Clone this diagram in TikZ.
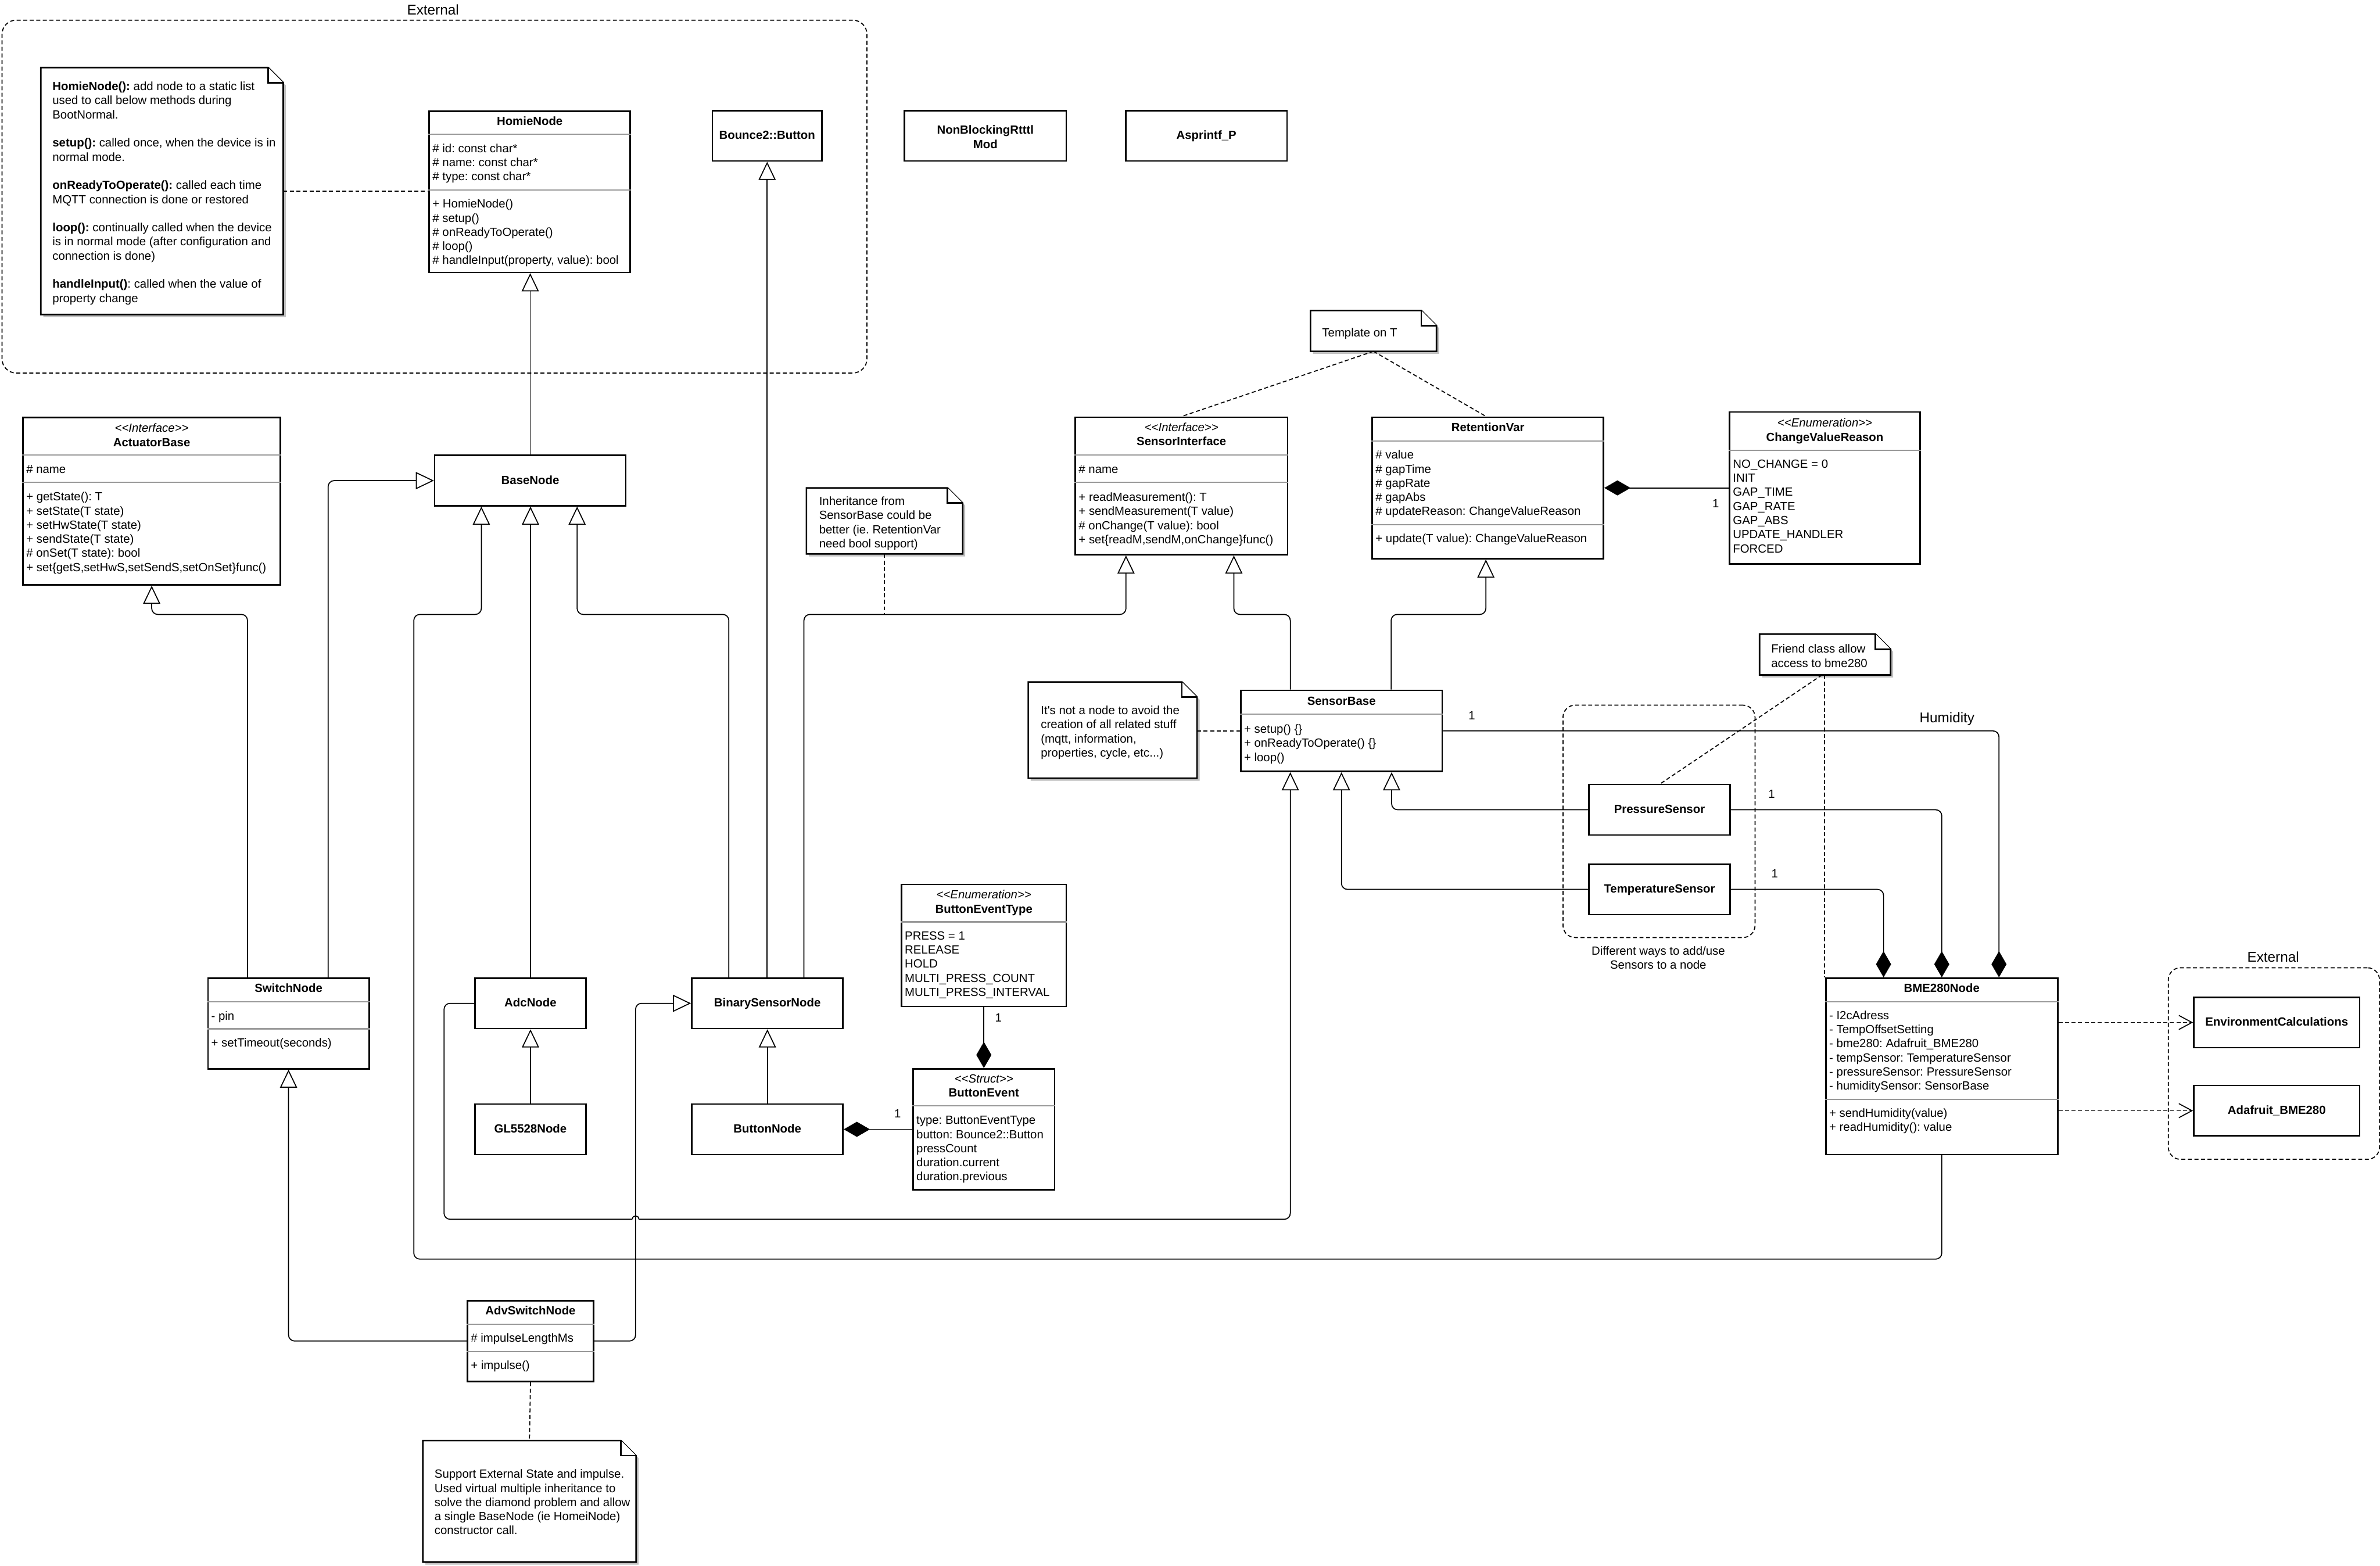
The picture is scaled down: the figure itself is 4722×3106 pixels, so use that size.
\documentclass[tikz,border=0pt]{standalone}
\usepackage{fontspec}
\setmainfont{Liberation Sans}
\usetikzlibrary{arrows.meta}
\frenchspacing
\definecolor{sepgray}{HTML}{999999}
\definecolor{shadowgray}{HTML}{C0C0C0}
\newcommand{\umlfont}{\fontsize{23.5}{28}\selectfont\frenchspacing}
\newcommand{\bigumlfont}{\fontsize{28}{33}\selectfont}
\newcommand{\leftlines}[1]{\vtop{\baselineskip=28pt\lineskiplimit=-100pt\lineskip=0pt\halign{##\hfil\cr#1\crcr}}}
\newcommand{\centerlines}[1]{\vtop{\baselineskip=28pt\lineskiplimit=-100pt\lineskip=0pt\halign{\hfil##\hfil\cr#1\crcr}}}
\newcommand{\umlsep}[2]{\draw[sepln] (#1.west |- 0,#2) -- (#1.east |- 0,#2);}
\newcommand{\drawnote}[1]{%
  \fill[shadowgray] ([shift={(5,5)}]#1.north west) -- ([shift={(-25,5)}]#1.north east) -- ([shift={(5,35)}]#1.north east) -- ([shift={(5,5)}]#1.south east) -- ([shift={(5,5)}]#1.south west) -- cycle;
  \draw[noteln] (#1.north west) -- ([shift={(-30,0)}]#1.north east) -- ([shift={(0,30)}]#1.north east) -- (#1.south east) -- (#1.south west) -- cycle;
  \draw[noteln] ([shift={(-30,0)}]#1.north east) -- ([shift={(-30,30)}]#1.north east) -- ([shift={(0,30)}]#1.north east);}
\begin{document}
\begin{tikzpicture}[x=1pt, y=-1pt,
  every node/.style={font=\umlfont, inner sep=0pt},
  box/.style={draw, line width=3pt, fill=white, rectangle, anchor=north west},
  grp/.style={draw, line width=2pt, dash pattern=on 8pt off 5pt, rounded corners=28pt, rectangle, anchor=north west},
  notebg/.style={rectangle, anchor=north west, outer sep=0pt},
  noteln/.style={draw, line width=3pt, fill=white, line join=miter},
  sepln/.style={draw=sepgray, line width=2.5pt},
  ttl/.style={anchor=base, font=\umlfont\bfseries},
  ster/.style={anchor=base, font=\umlfont\itshape},
  txt/.style={anchor=base west},
  lbl/.style={anchor=base},
  biglbl/.style={anchor=base, font=\bigumlfont},
  conn/.style={draw, line width=2pt, rounded corners=12pt},
  inh/.style={conn, -{Triangle[open, fill=white, length=36pt, width=34pt]}},
  comp/.style={conn, -{Diamond[length=52pt, width=30pt]}},
  dashln/.style={draw, line width=2pt, dash pattern=on 8pt off 5pt},
  dep/.style={dashln, -{Straight Barb[length=26pt, width=28pt]}}
]
\fill[white] (0,0) rectangle (4722,3106);
\useasboundingbox (0,0) rectangle (4722,3106);

% ---------- groups ----------
\node[grp, minimum width=1716pt, minimum height=700pt] (ext1) at (3,39) {};
\node[biglbl] (ext1-l) at (859,29) {External};
\node[grp, rounded corners=24pt, minimum width=381pt, minimum height=461pt] (grp2) at (3100,1398) {};
\node[lbl] (grp2-l) at (3290,1894.5) {\centerlines{Different ways to add/use\cr Sensors to a node}};
\node[grp, rounded corners=24pt, minimum width=419pt, minimum height=380pt] (ext2) at (4301,1919) {};
\node[biglbl] (ext2-l) at (4510,1908) {External};

% ---------- notes ----------
\node[notebg, minimum width=481pt, minimum height=490pt] (note1) at (81,134) {};
\drawnote{note1}
\node[txt] (note1-t) at (104,179.5) {\leftlines{\textbf{HomieNode():} add node to a static list\cr used to call below methods during\cr BootNormal.\cr\cr \textbf{setup():} called once, when the device is in\cr normal mode.\cr\cr \textbf{onReadyToOperate():} called each time\cr MQTT connection is done or restored\cr\cr \textbf{loop():} continually called when the device\cr is in normal mode (after configuration and\cr connection is done)\cr\cr \textbf{handleInput()}: called when the value of\cr property change}};

\node[notebg, minimum width=250pt, minimum height=81pt] (tmpl) at (2600,616) {};
\drawnote{tmpl}
\node[txt] (tmpl-t) at (2623,667.5) {Template on T};

\node[notebg, minimum width=310pt, minimum height=131pt] (inhnote) at (1600,968) {};
\drawnote{inhnote}
\node[txt] (inhnote-t) at (1625,1002.5) {\leftlines{Inheritance from\cr SensorBase could be\cr better (ie. RetentionVar\cr need bool support)}};

\node[notebg, minimum width=335pt, minimum height=191pt] (notnode) at (2040,1353) {};
\drawnote{notnode}
\node[txt] (notnode-t) at (2065,1417.5) {\leftlines{It\textquotesingle s not a node to avoid the\cr creation of all related stuff\cr (mqtt, information,\cr properties, cycle, etc...)}};

\node[notebg, minimum width=260pt, minimum height=81pt] (friend) at (3491,1258) {};
\drawnote{friend}
\node[txt] (friend-t) at (3514,1295.5) {\leftlines{Friend class allow\cr access to bme280}};

\node[notebg, minimum width=423pt, minimum height=241pt] (advnote) at (839,2858) {};
\drawnote{advnote}
\node[txt] (advnote-t) at (862,2932.5) {\leftlines{Support External State and impulse.\cr Used virtual multiple inheritance to\cr solve the diamond problem and allow\cr a single BaseNode (ie HomeiNode)\cr constructor call.}};

% ---------- classes ----------
\node[box, minimum width=399pt, minimum height=320pt] (homie) at (850,219) {};
\node[ttl] (homie-t) at (homie.north |- 0,248.5) {HomieNode};
\umlsep{homie}{266}
\umlsep{homie}{377}
\node[txt] (homie-a) at (858,302.5) {\leftlines{\# id: const char*\cr \# name: const char*\cr \# type: const char*}};
\node[txt] (homie-m) at (858,412.5) {\leftlines{+ HomieNode()\cr \# setup()\cr \# onReadyToOperate()\cr \# loop()\cr \# handleInput(property, value): bool}};

\node[box, minimum width=217pt, minimum height=100pt] (bounce) at (1412,218) {};
\node[ttl] (bounce-t) at (bounce.north |- 0,276.5) {Bounce2::Button};
\node[box, minimum width=321pt, minimum height=100pt] (nbr) at (1793,218) {};
\node[ttl] (nbr-t) at (nbr.north |- 0,266) {\centerlines{NonBlockingRtttl\cr Mod}};
\node[box, minimum width=320pt, minimum height=100pt] (asp) at (2232,218) {};
\node[ttl] (asp-t) at (asp.north |- 0,276.5) {Asprintf\_P};

\node[box, minimum width=511pt, minimum height=332pt] (actb) at (44,827) {};
\node[ster] (actb-s) at (actb.north |- 0,857.5) {<{}<Interface>{}>};
\node[ttl] (actb-t) at (actb.north |- 0,885.5) {ActuatorBase};
\umlsep{actb}{903}
\umlsep{actb}{957}
\node[txt] (actb-a) at (52,938.5) {\# name};
\node[txt] (actb-m) at (52,993.5) {\leftlines{+ getState(): T\cr + setState(T state)\cr + setHwState(T state)\cr + sendState(T state)\cr \# onSet(T state): bool\cr + set\{getS,setHwS,setSendS,setOnSet\}func()}};

\node[box, minimum width=379pt, minimum height=100pt] (basenode) at (861,902) {};
\node[ttl] (basenode-t) at (basenode.north |- 0,960.5) {BaseNode};

\node[box, minimum width=421pt, minimum height=273pt] (sensint) at (2132,826) {};
\node[ster] (sensint-s) at (sensint.north |- 0,856.5) {<{}<Interface>{}>};
\node[ttl] (sensint-t) at (sensint.north |- 0,883.5) {SensorInterface};
\umlsep{sensint}{903}
\umlsep{sensint}{957}
\node[txt] (sensint-a) at (2140,939.5) {\# name};
\node[txt] (sensint-m) at (2140,994.5) {\leftlines{+ readMeasurement(): T\cr + sendMeasurement(T value)\cr \# onChange(T value): bool\cr + set\{readM,sendM,onChange\}func()}};

\node[box, minimum width=459pt, minimum height=281pt] (retvar) at (2721,826) {};
\node[ttl] (retvar-t) at (retvar.north |- 0,856.5) {RetentionVar};
\umlsep{retvar}{875}
\umlsep{retvar}{1041}
\node[txt] (retvar-a) at (2729,910.5) {\leftlines{\# value\cr \# gapTime\cr \# gapRate\cr \# gapAbs\cr \# updateReason: ChangeValueReason}};
\node[txt] (retvar-m) at (2729,1076.5) {+ update(T value): ChangeValueReason};

\node[box, minimum width=378pt, minimum height=301pt] (cvr) at (3430,816) {};
\node[ster] (cvr-s) at (cvr.north |- 0,846.5) {<{}<Enumeration>{}>};
\node[ttl] (cvr-t) at (cvr.north |- 0,875.5) {ChangeValueReason};
\umlsep{cvr}{893}
\node[txt] (cvr-a) at (3438,928.5) {\leftlines{NO\_CHANGE = 0\cr INIT\cr GAP\_TIME\cr GAP\_RATE\cr GAP\_ABS\cr UPDATE\_HANDLER\cr FORCED}};

\node[box, minimum width=400pt, minimum height=161pt] (sensbase) at (2460,1368) {};
\node[ttl] (sensbase-t) at (sensbase.north |- 0,1399.5) {SensorBase};
\umlsep{sensbase}{1417}
\node[txt] (sensbase-m) at (2468,1454.5) {\leftlines{+ setup() \{\}\cr + onReadyToOperate() \{\}\cr + loop()}};

\node[box, minimum width=280pt, minimum height=100pt] (press) at (3151,1555) {};
\node[ttl] (press-t) at (press.north |- 0,1613.5) {PressureSensor};
\node[box, minimum width=280pt, minimum height=100pt] (temp) at (3151,1713) {};
\node[ttl] (temp-t) at (temp.north |- 0,1771.5) {TemperatureSensor};

\node[box, minimum width=460pt, minimum height=350pt] (bme) at (3621,1939) {};
\node[ttl] (bme-t) at (bme.north |- 0,1968.5) {BME280Node};
\umlsep{bme}{1987}
\umlsep{bme}{2181}
\node[txt] (bme-a) at (3629,2022.5) {\leftlines{- I2cAdress\cr - TempOffsetSetting\cr - bme280: Adafruit\_BME280\cr - tempSensor: TemperatureSensor\cr - pressureSensor: PressureSensor\cr - humiditySensor: SensorBase}};
\node[txt] (bme-m) at (3629,2216.5) {\leftlines{+ sendHumidity(value)\cr + readHumidity(): value}};

\node[box, minimum width=329pt, minimum height=100pt] (envc) at (4351,1977) {};
\node[ttl] (envc-t) at (envc.north |- 0,2035.5) {EnvironmentCalculations};
\node[box, minimum width=329pt, minimum height=100pt] (ada) at (4351,2152) {};
\node[ttl] (ada-t) at (ada.north |- 0,2210.5) {Adafruit\_BME280};

\node[box, minimum width=320pt, minimum height=180pt] (switch) at (411,1939) {};
\node[ttl] (switch-t) at (switch.north |- 0,1968.5) {SwitchNode};
\umlsep{switch}{1987}
\umlsep{switch}{2041}
\node[txt] (switch-a) at (419,2023.5) {- pin};
\node[txt] (switch-m) at (419,2076.5) {+ setTimeout(seconds)};

\node[box, minimum width=220pt, minimum height=100pt] (adc) at (941,1939) {};
\node[ttl] (adc-t) at (adc.north |- 0,1997.5) {AdcNode};
\node[box, minimum width=220pt, minimum height=100pt] (gl) at (941,2189) {};
\node[ttl] (gl-t) at (gl.north |- 0,2247.5) {GL5528Node};

\node[box, minimum width=300pt, minimum height=100pt] (binsens) at (1371,1939) {};
\node[ttl] (binsens-t) at (binsens.north |- 0,1997.5) {BinarySensorNode};
\node[box, minimum width=300pt, minimum height=100pt] (button) at (1371,2189) {};
\node[ttl] (button-t) at (button.north |- 0,2247.5) {ButtonNode};

\node[box, minimum width=327pt, minimum height=242pt] (bet) at (1787,1753) {};
\node[ster] (bet-s) at (bet.north |- 0,1782.5) {<{}<Enumeration>{}>};
\node[ttl] (bet-t) at (bet.north |- 0,1811.5) {ButtonEventType};
\umlsep{bet}{1829}
\node[txt] (bet-a) at (1795,1864.5) {\leftlines{PRESS = 1\cr RELEASE\cr HOLD\cr MULTI\_PRESS\_COUNT\cr MULTI\_PRESS\_INTERVAL}};

\node[box, minimum width=281pt, minimum height=240pt] (bev) at (1810,2119) {};
\node[ster] (bev-s) at (bev.north |- 0,2148.5) {<{}<Struct>{}>};
\node[ttl] (bev-t) at (bev.north |- 0,2176.5) {ButtonEvent};
\umlsep{bev}{2194}
\node[txt] (bev-a) at (1818,2230.5) {\leftlines{type: ButtonEventType\cr button: Bounce2::Button\cr pressCount\cr duration.current\cr duration.previous}};

\node[box, minimum width=250pt, minimum height=160pt] (advsw) at (926,2579) {};
\node[ttl] (advsw-t) at (advsw.north |- 0,2608.5) {AdvSwitchNode};
\umlsep{advsw}{2627}
\umlsep{advsw}{2681}
\node[txt] (advsw-a) at (934,2662.5) {\# impulseLengthMs};
\node[txt] (advsw-m) at (934,2716.5) {+ impulse()};

% ---------- inheritance ----------
\draw[inh] (basenode.north) -- (basenode.north |- homie.south);
\draw[inh] (bounce.south |- binsens.north) -- (bounce.south);
\draw[inh] (491,0 |- switch.north) -- (491,1219) -- (actb.south |- 0,1219) -- (actb.south);
\draw[inh] (651,0 |- switch.north) -- (651,0 |- basenode.west) -- (basenode.west);
\draw[inh] (adc.north) -- (adc.north |- basenode.south);
\draw[inh] (bme.south) -- (bme.south |- 0,2498) -- (821,2498) -- (821,1219) -- (955,1219) -- (955,0 |- basenode.south);
\draw[inh] (1446,0 |- binsens.north) -- (1446,1219) -- (1145,1219) -- (1145,0 |- basenode.south);
\draw[inh] (1595,0 |- binsens.north) -- (1595,1219) -- (2234,1219) -- (2234,0 |- sensint.south);
\draw[inh] (2560,0 |- sensbase.north) -- (2560,1219) -- (2448,1219) -- (2448,0 |- sensint.south);
\draw[inh] (2760,0 |- sensbase.north) -- (2760,1219) -- (2948,1219) -- (2948,0 |- retvar.south);
\draw[conn] (adc.west) -- (881,0 |- adc.west) -- (881,2419) -- (1254.5,2419);
\draw[conn] (1254.5,2419) .. controls (1254.5,2410) and (1267.5,2410) .. (1267.5,2419);
\draw[inh] (1267.5,2419) -- (2560,2419) -- (2560,0 |- sensbase.south);
\draw[inh] (press.west) -- (2761,0 |- press.west) -- (2761,0 |- sensbase.south);
\draw[inh] (temp.west) -- (sensbase.south |- temp.west) -- (sensbase.south);
\draw[inh] (button.north) -- (binsens.south);
\draw[inh] (gl.north) -- (adc.south);
\draw[inh] (advsw.west) -- (switch.south |- advsw.west) -- (switch.south);
\draw[inh] (advsw.east) -- (1261,0 |- advsw.east) -- (1261,0 |- binsens.west) -- (binsens.west);

% ---------- composition ----------
\draw[comp] (cvr.west) -- (retvar.east);
\draw[comp] (sensbase.east) -- (3966,0 |- sensbase.east) -- (3966,0 |- bme.north);
\draw[comp] (press.east) -- (bme.north |- press.east) -- (bme.north);
\draw[comp] (temp.east) -- (3737,0 |- temp.east) -- (3737,0 |- bme.north);
\draw[comp] (bet.south) -- (bev.north);
\draw[comp] (bev.west) -- (button.east);

% ---------- dependencies ----------
\draw[dep] (bme.east |- envc.west) -- (envc.west);
\draw[dep] (bme.east |- ada.west) -- (ada.west);

% ---------- note links ----------
\draw[dashln] (note1.east) -- (homie.west |- note1.east);
\draw[dashln] (tmpl.south) -- (2345,0 |- sensint.north);
\draw[dashln] (tmpl.south) -- (2948,0 |- retvar.north);
\draw[dashln] (inhnote.south) -- (inhnote.south |- 0,1219);
\draw[dashln] (notnode.east |- sensbase.west) -- (sensbase.west);
\draw[dashln] (3620,0 |- friend.south) -- (3620,0 |- bme.north);
\draw[dashln] (3615,0 |- friend.south) -- (3294,0 |- press.north);
\draw[dashln] (advsw.south) -- (advnote.north);

% ---------- labels ----------
\node[lbl] (m1) at (3404,1006.5) {1};
\node[lbl] (m2) at (2920,1427.5) {1};
\node[lbl] (m3) at (3515,1583.5) {1};
\node[lbl] (m4) at (3521,1741.5) {1};
\node[lbl] (m5) at (1981,2027.5) {1};
\node[lbl] (m6) at (1781,2217.5) {1};
\node[biglbl] (hum) at (3863,1433) {Humidity};
\end{tikzpicture}
\end{document}
